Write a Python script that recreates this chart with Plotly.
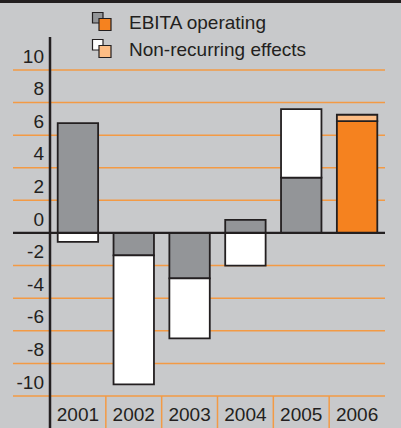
import plotly.graph_objects as go

years = ['2001', '2002', '2003', '2004', '2005', '2006']
ebita_operating = [6.74, -1.37, -2.79, 0.8, 3.39, 6.86]
non_recurring = [-0.55, -7.92, -3.68, -2.0, 4.21, 0.39]
y_ticks = [-10, -8, -6, -4, -2, 0, 2, 4, 6, 8, 10]

BG = '#c8c9cb'
DARK = '#231f20'
GREY = '#939598'
ORANGE = '#f5821f'
LIGHT_ORANGE = '#fdbd85'
GRID = '#f39a45'
FONT = 'Liberation Sans, Arial, sans-serif'
FS = 19

W, H = 401, 428
ML, MR, MT, MB = 50, 16, 37, 32
YMIN, YMAX = -10, 12.02
PW, PH = W - ML - MR, H - MT - MB


def px(xp):
    return (xp - ML) / PW


def py(yp):
    return (H - MB - yp) / PH


def vy(v):
    return (v - YMIN) / (YMAX - YMIN)


fig = go.Figure()
fig.add_trace(go.Bar(
    x=years, y=ebita_operating, name='EBITA operating',
    marker=dict(color=[GREY] * 5 + [ORANGE], line=dict(color=DARK, width=1.8)),
))
fig.add_trace(go.Bar(
    x=years, y=non_recurring, name='Non-recurring effects',
    marker=dict(color=['white'] * 5 + [LIGHT_ORANGE], line=dict(color=DARK, width=1.8)),
))

shapes = []
# gridlines (extend left of the axis)
for v in y_ticks:
    if v == 0:
        shapes.append(dict(type='line', xref='paper', yref='paper', x0=px(13), x1=1,
                           y0=vy(v), y1=vy(v), line=dict(color=DARK, width=2.2), layer='above'))
    else:
        shapes.append(dict(type='line', xref='paper', yref='paper', x0=px(13), x1=1,
                           y0=vy(v), y1=vy(v), line=dict(color=GRID, width=1.5), layer='below'))
# separators between category labels
for k in range(1, len(years)):
    shapes.append(dict(type='line', xref='paper', yref='paper', x0=k / len(years), x1=k / len(years),
                       y0=py(H), y1=0, line=dict(color=GRID, width=1.5)))
# vertical axis line
shapes.append(dict(type='line', xref='paper', yref='paper', x0=0, x1=0,
                   y0=py(H + 2), y1=1, line=dict(color=DARK, width=2.5)))
# top dark band
shapes.append(dict(type='rect', xref='paper', yref='paper', x0=px(-5), x1=px(W + 5),
                   y0=py(3), y1=py(-5), fillcolor=DARK, line=dict(width=0)))
# legend icons
for i, (back, front) in enumerate([(GREY, ORANGE), ('white', LIGHT_ORANGE)]):
    dy = i * 27
    shapes.append(dict(type='rect', xref='paper', yref='paper', x0=px(92.5), x1=px(103),
                       y0=py(23 + dy), y1=py(12.5 + dy), fillcolor=back,
                       line=dict(color=DARK, width=1.2)))
    shapes.append(dict(type='rect', xref='paper', yref='paper', x0=px(99), x1=px(111),
                       y0=py(30.5 + dy), y1=py(18.5 + dy), fillcolor=front,
                       line=dict(color=DARK, width=1.2)))

annotations = []
for i, name in enumerate(['EBITA operating', 'Non-recurring effects']):
    annotations.append(dict(text=name, xref='paper', yref='paper', x=px(127), y=py(22.7 + i * 26.7),
                            xanchor='left', yanchor='middle', showarrow=False,
                            font=dict(family=FONT, size=FS, color=DARK)))

fig.update_layout(
    width=W, height=H,
    margin=dict(l=ML, r=MR, t=MT, b=MB, pad=0, autoexpand=False),
    paper_bgcolor=BG, plot_bgcolor=BG,
    barmode='relative', bargap=0.276,
    showlegend=False,
    shapes=shapes, annotations=annotations,
    font=dict(family=FONT, size=FS, color=DARK),
)
fig.update_xaxes(
    showgrid=False, showline=False, zeroline=False, ticks='', automargin=False,
    tickfont=dict(family=FONT, size=FS, color=DARK),
    ticklabelstandoff=5,
)
fig.update_yaxes(
    range=[YMIN, YMAX], tickvals=y_ticks, ticktext=[str(v) for v in y_ticks],
    showgrid=False, automargin=False, zeroline=False,
    showline=False, ticks='',
    tickfont=dict(family=FONT, size=FS, color=DARK),
    ticklabelshift=-14, ticklabelstandoff=5,
)

fig.write_html('out.html', config={'displayModeBar': False},
               post_script="document.body.style.margin='0';")
